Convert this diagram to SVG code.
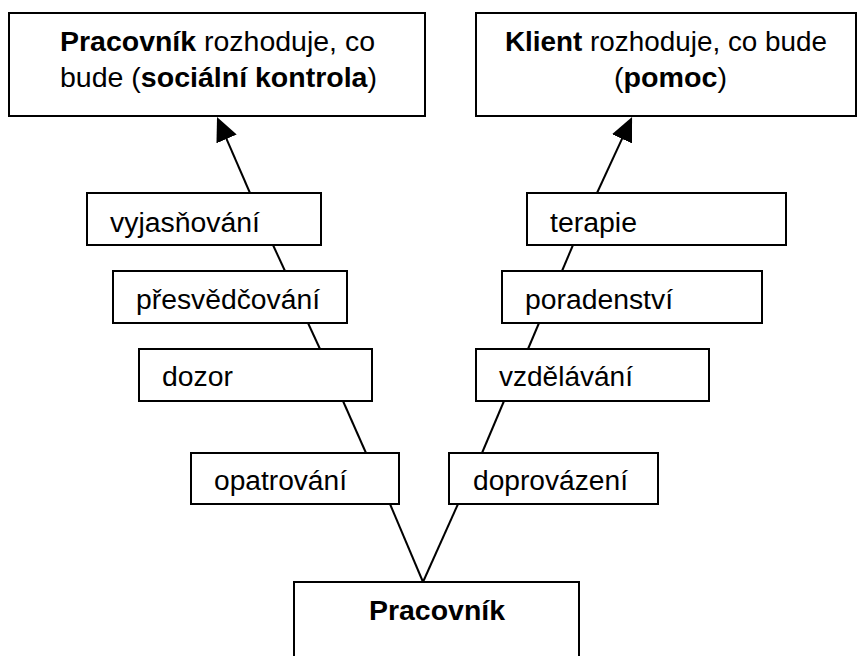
<svg xmlns="http://www.w3.org/2000/svg" width="857" height="656" viewBox="0 0 857 656">
<style>
.box{fill:#fff;stroke:#000;stroke-width:2}
.t{font-family:"Liberation Sans",Arial,sans-serif;font-size:27px;fill:#000}
.b{font-weight:bold}
.c{stroke:#000;stroke-width:2;fill:none}
</style>
<defs>
<marker id="arr" markerUnits="userSpaceOnUse" viewBox="0 0 24 22" refX="16" refY="11" markerWidth="24" markerHeight="22" orient="auto">
<path d="M0,0 L24,11 L0,22 z" fill="#000"/>
</marker>
</defs>
<rect width="857" height="656" fill="#fff"/>
<g id="connectors">
<line class="c" x1="250" y1="193" x2="220.2" y2="124.3" marker-end="url(#arr)"/>
<line class="c" x1="273" y1="245" x2="285" y2="271"/>
<line class="c" x1="308" y1="323" x2="320" y2="349"/>
<line class="c" x1="343" y1="401" x2="366" y2="453"/>
<line class="c" x1="390" y1="504" x2="423" y2="582"/>
<line class="c" x1="597" y1="193" x2="628.7" y2="124.3" marker-end="url(#arr)"/>
<line class="c" x1="573" y1="245" x2="562" y2="271"/>
<line class="c" x1="539" y1="323" x2="528" y2="349"/>
<line class="c" x1="504" y1="401" x2="482" y2="453"/>
<line class="c" x1="458" y1="504" x2="423" y2="582"/>
</g>
<g id="social-control">
<rect class="box" x="9" y="13" width="416" height="103"/>
<text class="t" x="60" y="51" textLength="315" lengthAdjust="spacingAndGlyphs"><tspan class="b">Pracovník</tspan> rozhoduje, co</text>
<text class="t" x="60" y="87" textLength="317" lengthAdjust="spacingAndGlyphs">bude (<tspan class="b">sociální kontrola</tspan>)</text>
</g>
<g id="help">
<rect class="box" x="476" y="13" width="380" height="103"/>
<text class="t" x="505" y="51" textLength="322" lengthAdjust="spacingAndGlyphs"><tspan class="b">Klient</tspan> rozhoduje, co bude</text>
<text class="t" x="614" y="87" textLength="113" lengthAdjust="spacingAndGlyphs">(<tspan class="b">pomoc</tspan>)</text>
</g>
<g id="vyjasnovani">
<rect class="box" x="87" y="193" width="234" height="52"/>
<text class="t" x="110" y="232" textLength="150" lengthAdjust="spacingAndGlyphs">vyjasňování</text>
</g>
<g id="presvedcovani">
<rect class="box" x="113" y="271" width="234" height="52"/>
<text class="t" x="136" y="309" textLength="184" lengthAdjust="spacingAndGlyphs">přesvědčování</text>
</g>
<g id="dozor">
<rect class="box" x="139" y="349" width="233" height="52"/>
<text class="t" x="162" y="386" textLength="71" lengthAdjust="spacingAndGlyphs">dozor</text>
</g>
<g id="opatrovani">
<rect class="box" x="191" y="453" width="208" height="51"/>
<text class="t" x="214" y="490" textLength="133" lengthAdjust="spacingAndGlyphs">opatrování</text>
</g>
<g id="terapie">
<rect class="box" x="527" y="193" width="259" height="52"/>
<text class="t" x="550" y="232" textLength="87" lengthAdjust="spacingAndGlyphs">terapie</text>
</g>
<g id="poradenstvi">
<rect class="box" x="502" y="271" width="260" height="52"/>
<text class="t" x="525" y="309" textLength="148" lengthAdjust="spacingAndGlyphs">poradenství</text>
</g>
<g id="vzdelavani">
<rect class="box" x="476" y="349" width="233" height="52"/>
<text class="t" x="499" y="386" textLength="134" lengthAdjust="spacingAndGlyphs">vzdělávání</text>
</g>
<g id="doprovazeni">
<rect class="box" x="449" y="453" width="209" height="51"/>
<text class="t" x="473" y="490" textLength="155" lengthAdjust="spacingAndGlyphs">doprovázení</text>
</g>
<g id="pracovnik">
<rect class="box" x="294" y="582" width="285" height="100"/>
<text class="t b" x="369" y="620" textLength="136" lengthAdjust="spacingAndGlyphs">Pracovník</text>
</g>
</svg>
